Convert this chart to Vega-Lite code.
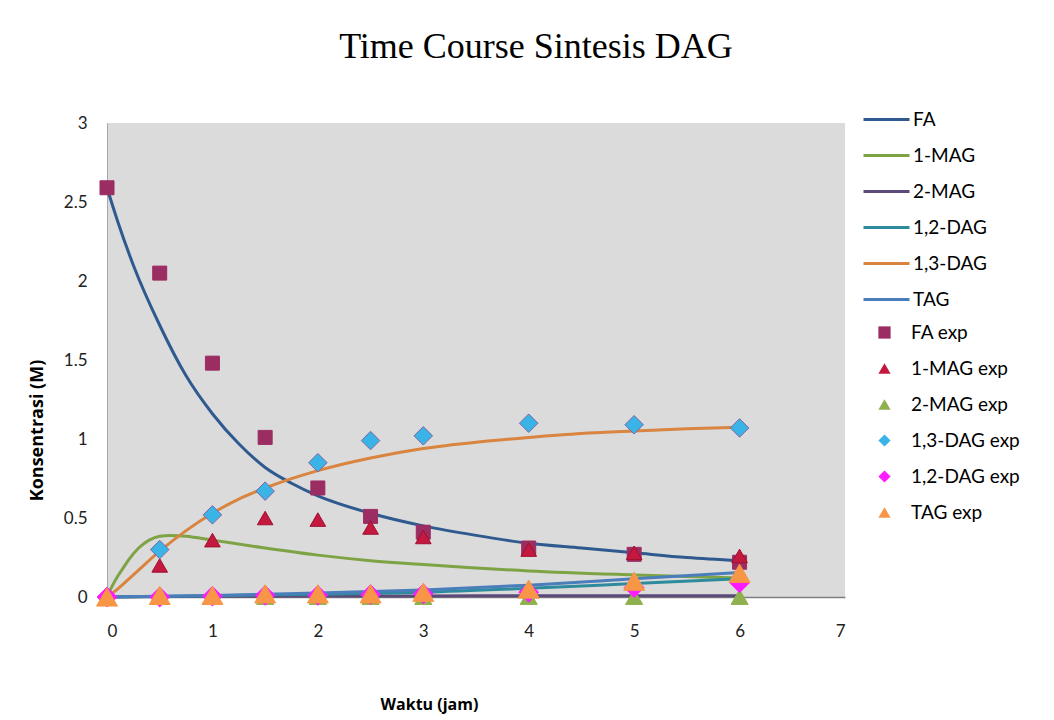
{
  "$schema": "https://vega.github.io/schema/vega-lite/v6.json",
  "width": 738,
  "height": 474,
  "autosize": "none",
  "padding": {"left": 107, "top": 123, "right": 209, "bottom": 123},
  "background": "white",
  "config": {
    "view": {"fill": "#dbdbdb", "stroke": null},
    "font": "Lato"
  },
  "title": {
    "text": "Time Course Sintesis DAG",
    "font": "Liberation Serif",
    "fontSize": 36,
    "fontWeight": "normal",
    "color": "#000000",
    "anchor": "middle",
    "dx": 60,
    "offset": 29
  },
  "resolve": {
    "scale": {"stroke": "independent", "size": "independent"},
    "legend": {"stroke": "independent"}
  },
  "datasets": {
    "curves": [
      {"series": "FA", "t": 0, "c": 2.59},
      {"series": "FA", "t": 0.1, "c": 2.38},
      {"series": "FA", "t": 0.25, "c": 2.1},
      {"series": "FA", "t": 0.5, "c": 1.72},
      {"series": "FA", "t": 0.75, "c": 1.4},
      {"series": "FA", "t": 1, "c": 1.16},
      {"series": "FA", "t": 1.25, "c": 0.97},
      {"series": "FA", "t": 1.5, "c": 0.82},
      {"series": "FA", "t": 1.75, "c": 0.72},
      {"series": "FA", "t": 2, "c": 0.64},
      {"series": "FA", "t": 2.5, "c": 0.53},
      {"series": "FA", "t": 3, "c": 0.45},
      {"series": "FA", "t": 3.5, "c": 0.39},
      {"series": "FA", "t": 4, "c": 0.34},
      {"series": "FA", "t": 4.5, "c": 0.31},
      {"series": "FA", "t": 5, "c": 0.28},
      {"series": "FA", "t": 5.5, "c": 0.25},
      {"series": "FA", "t": 6, "c": 0.23},
      {"series": "1-MAG", "t": 0, "c": 0},
      {"series": "1-MAG", "t": 0.05, "c": 0.07},
      {"series": "1-MAG", "t": 0.1, "c": 0.13},
      {"series": "1-MAG", "t": 0.15, "c": 0.18},
      {"series": "1-MAG", "t": 0.2, "c": 0.23},
      {"series": "1-MAG", "t": 0.3, "c": 0.31},
      {"series": "1-MAG", "t": 0.4, "c": 0.36},
      {"series": "1-MAG", "t": 0.5, "c": 0.385},
      {"series": "1-MAG", "t": 0.6, "c": 0.39},
      {"series": "1-MAG", "t": 0.75, "c": 0.385},
      {"series": "1-MAG", "t": 1, "c": 0.36},
      {"series": "1-MAG", "t": 1.5, "c": 0.31},
      {"series": "1-MAG", "t": 2, "c": 0.265},
      {"series": "1-MAG", "t": 2.5, "c": 0.23},
      {"series": "1-MAG", "t": 3, "c": 0.205},
      {"series": "1-MAG", "t": 4, "c": 0.165},
      {"series": "1-MAG", "t": 5, "c": 0.14},
      {"series": "1-MAG", "t": 6, "c": 0.12},
      {"series": "2-MAG", "t": 0, "c": 0},
      {"series": "2-MAG", "t": 1, "c": 0.004},
      {"series": "2-MAG", "t": 2, "c": 0.006},
      {"series": "2-MAG", "t": 3, "c": 0.007},
      {"series": "2-MAG", "t": 4, "c": 0.008},
      {"series": "2-MAG", "t": 5, "c": 0.008},
      {"series": "2-MAG", "t": 6, "c": 0.008},
      {"series": "1,2-DAG", "t": 0, "c": 0},
      {"series": "1,2-DAG", "t": 1, "c": 0.008},
      {"series": "1,2-DAG", "t": 2, "c": 0.018},
      {"series": "1,2-DAG", "t": 3, "c": 0.03},
      {"series": "1,2-DAG", "t": 4, "c": 0.055},
      {"series": "1,2-DAG", "t": 5, "c": 0.085},
      {"series": "1,2-DAG", "t": 6, "c": 0.115},
      {"series": "1,3-DAG", "t": 0, "c": 0},
      {"series": "1,3-DAG", "t": 0.1, "c": 0.05},
      {"series": "1,3-DAG", "t": 0.25, "c": 0.14},
      {"series": "1,3-DAG", "t": 0.5, "c": 0.29},
      {"series": "1,3-DAG", "t": 0.75, "c": 0.42},
      {"series": "1,3-DAG", "t": 1, "c": 0.53},
      {"series": "1,3-DAG", "t": 1.25, "c": 0.62},
      {"series": "1,3-DAG", "t": 1.5, "c": 0.69},
      {"series": "1,3-DAG", "t": 2, "c": 0.8},
      {"series": "1,3-DAG", "t": 2.5, "c": 0.88},
      {"series": "1,3-DAG", "t": 3, "c": 0.94},
      {"series": "1,3-DAG", "t": 3.5, "c": 0.98},
      {"series": "1,3-DAG", "t": 4, "c": 1.01},
      {"series": "1,3-DAG", "t": 4.5, "c": 1.035},
      {"series": "1,3-DAG", "t": 5, "c": 1.05},
      {"series": "1,3-DAG", "t": 5.5, "c": 1.065},
      {"series": "1,3-DAG", "t": 6, "c": 1.075},
      {"series": "TAG", "t": 0, "c": 0},
      {"series": "TAG", "t": 1, "c": 0.01},
      {"series": "TAG", "t": 2, "c": 0.025},
      {"series": "TAG", "t": 3, "c": 0.045},
      {"series": "TAG", "t": 4, "c": 0.075},
      {"series": "TAG", "t": 5, "c": 0.115},
      {"series": "TAG", "t": 6, "c": 0.155}
    ],
    "exp": [
      {"series": "FA exp", "t": 0, "c": 2.59},
      {"series": "FA exp", "t": 0.5, "c": 2.05},
      {"series": "FA exp", "t": 1, "c": 1.48},
      {"series": "FA exp", "t": 1.5, "c": 1.01},
      {"series": "FA exp", "t": 2, "c": 0.69},
      {"series": "FA exp", "t": 2.5, "c": 0.51},
      {"series": "FA exp", "t": 3, "c": 0.41},
      {"series": "FA exp", "t": 4, "c": 0.31},
      {"series": "FA exp", "t": 5, "c": 0.27},
      {"series": "FA exp", "t": 6, "c": 0.22},
      {"series": "1-MAG exp", "t": 0, "c": 0},
      {"series": "1-MAG exp", "t": 0.5, "c": 0.2},
      {"series": "1-MAG exp", "t": 1, "c": 0.36},
      {"series": "1-MAG exp", "t": 1.5, "c": 0.5},
      {"series": "1-MAG exp", "t": 2, "c": 0.49},
      {"series": "1-MAG exp", "t": 2.5, "c": 0.44},
      {"series": "1-MAG exp", "t": 3, "c": 0.38},
      {"series": "1-MAG exp", "t": 4, "c": 0.3},
      {"series": "1-MAG exp", "t": 5, "c": 0.28},
      {"series": "1-MAG exp", "t": 6, "c": 0.26},
      {"series": "2-MAG exp", "t": 0, "c": 0},
      {"series": "2-MAG exp", "t": 0.5, "c": 0},
      {"series": "2-MAG exp", "t": 1, "c": 0},
      {"series": "2-MAG exp", "t": 1.5, "c": 0},
      {"series": "2-MAG exp", "t": 2, "c": 0},
      {"series": "2-MAG exp", "t": 2.5, "c": 0},
      {"series": "2-MAG exp", "t": 3, "c": 0},
      {"series": "2-MAG exp", "t": 4, "c": 0},
      {"series": "2-MAG exp", "t": 5, "c": 0},
      {"series": "2-MAG exp", "t": 6, "c": 0},
      {"series": "1,3-DAG exp", "t": 0, "c": 0},
      {"series": "1,3-DAG exp", "t": 0.5, "c": 0.3},
      {"series": "1,3-DAG exp", "t": 1, "c": 0.52},
      {"series": "1,3-DAG exp", "t": 1.5, "c": 0.67},
      {"series": "1,3-DAG exp", "t": 2, "c": 0.85},
      {"series": "1,3-DAG exp", "t": 2.5, "c": 0.99},
      {"series": "1,3-DAG exp", "t": 3, "c": 1.02},
      {"series": "1,3-DAG exp", "t": 4, "c": 1.1},
      {"series": "1,3-DAG exp", "t": 5, "c": 1.09},
      {"series": "1,3-DAG exp", "t": 6, "c": 1.07},
      {"series": "1,2-DAG exp", "t": 0, "c": 0},
      {"series": "1,2-DAG exp", "t": 0.5, "c": 0},
      {"series": "1,2-DAG exp", "t": 1, "c": 0.005},
      {"series": "1,2-DAG exp", "t": 1.5, "c": 0.01},
      {"series": "1,2-DAG exp", "t": 2, "c": 0.01},
      {"series": "1,2-DAG exp", "t": 2.5, "c": 0.015},
      {"series": "1,2-DAG exp", "t": 3, "c": 0.02},
      {"series": "1,2-DAG exp", "t": 4, "c": 0.03},
      {"series": "1,2-DAG exp", "t": 5, "c": 0.06},
      {"series": "1,2-DAG exp", "t": 6, "c": 0.09},
      {"series": "TAG exp", "t": 0, "c": 0},
      {"series": "TAG exp", "t": 0.5, "c": 0.01},
      {"series": "TAG exp", "t": 1, "c": 0.01},
      {"series": "TAG exp", "t": 1.5, "c": 0.02},
      {"series": "TAG exp", "t": 2, "c": 0.02},
      {"series": "TAG exp", "t": 2.5, "c": 0.02},
      {"series": "TAG exp", "t": 3, "c": 0.03},
      {"series": "TAG exp", "t": 4, "c": 0.05},
      {"series": "TAG exp", "t": 5, "c": 0.1},
      {"series": "TAG exp", "t": 6, "c": 0.15}
    ]
  },
  "layer": [
    {
      "data": {"name": "curves"},
      "mark": {"type": "line", "strokeWidth": 3, "interpolate": "monotone", "clip": false},
      "encoding": {
        "x": {
          "field": "t", "type": "quantitative",
          "scale": {"domain": [0, 7], "nice": false},
          "axis": {
            "title": "Waktu (jam)", "titleFontSize": 16, "titleFontWeight": "bold", "titleColor": "#000000", "titleFont": "Open Sans",
            "titleX": 322, "titleY": 99, "titleBaseline": "top", "titleAlign": "center",
            "values": [0, 1, 2, 3, 4, 5, 6, 7], "grid": false, "ticks": false,
            "domainColor": "#7f7f7f", "domainWidth": 1.5, "labelFontSize": 17, "labelColor": "#222222",
            "labelPadding": 26, "format": "d"
          }
        },
        "y": {
          "field": "c", "type": "quantitative",
          "scale": {"domain": [0, 3], "nice": false},
          "axis": {
            "title": "Konsentrasi (M)", "titleFontSize": 18, "titleFontWeight": "bold", "titleColor": "#000000", "titleFont": "Open Sans",
            "titleX": -70, "titleY": 307, "titleBaseline": "middle", "titleAlign": "center", "titleAngle": -90,
            "values": [0, 0.5, 1, 1.5, 2, 2.5, 3], "grid": false, "ticks": false,
            "domainColor": "#a6a6a6", "labelFontSize": 17, "labelColor": "#222222",
            "labelPadding": 20, "format": "~g"
          }
        },
        "stroke": {
          "field": "series", "type": "nominal",
          "scale": {
            "domain": ["FA", "1-MAG", "2-MAG", "1,2-DAG", "1,3-DAG", "TAG"],
            "range": ["#2f5a8f", "#7ea345", "#5c4a7a", "#2e8b9e", "#d9843f", "#4a7ebb"]
          },
          "legend": {
            "title": null, "orient": "none", "legendX": 755, "legendY": -28,
            "symbolType": "stroke", "symbolSize": 2116, "symbolStrokeWidth": 3,
            "labelFontSize": 19, "labelColor": "#000000", "labelOffset": 2, "rowPadding": 1, "padding": 0
          }
        }
      }
    },
    {
      "data": {"name": "exp"},
      "mark": {"type": "point", "filled": true, "opacity": 1, "clip": false, "strokeWidth": 1},
      "encoding": {
        "x": {"field": "t", "type": "quantitative"},
        "y": {"field": "c", "type": "quantitative"},
        "fill": {
          "field": "series", "type": "nominal",
          "scale": {
            "domain": ["FA exp", "1-MAG exp", "2-MAG exp", "1,3-DAG exp", "1,2-DAG exp", "TAG exp"],
            "range": ["#9b2d62", "#c4183e", "#8fb04e", "#3ab4e6", "#ff1aff", "#f79646"]
          },
          "legend": {
            "title": null, "orient": "none", "legendX": 768, "legendY": 200,
            "symbolSize": 150, "labelFontSize": 19, "labelColor": "#000000", "labelOffset": 17, "rowPadding": 16, "padding": 0
          }
        },
        "shape": {
          "field": "series", "type": "nominal",
          "scale": {
            "domain": ["FA exp", "1-MAG exp", "2-MAG exp", "1,3-DAG exp", "1,2-DAG exp", "TAG exp"],
            "range": ["square", "triangle-up", "triangle-up", "diamond", "diamond", "triangle-up"]
          }
        },
        "stroke": {
          "field": "series", "type": "nominal",
          "scale": {
            "domain": ["FA exp", "1-MAG exp", "2-MAG exp", "1,3-DAG exp", "1,2-DAG exp", "TAG exp"],
            "range": ["#9b2d62", "#a01030", "#8fb04e", "#8064a2", "#ff1aff", "#f79646"]
          },
          "legend": null
        },
        "size": {
          "field": "series", "type": "nominal",
          "scale": {
            "domain": ["FA exp", "1-MAG exp", "2-MAG exp", "1,3-DAG exp", "1,2-DAG exp", "TAG exp"],
            "range": [196, 440, 420, 240, 200, 420]
          },
          "legend": null
        }
      }
    }
  ]
}
